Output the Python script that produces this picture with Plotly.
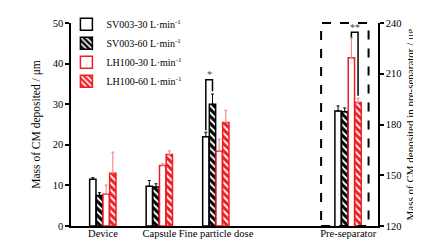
import plotly.graph_objects as go

categories = ["Device", "Capsule", "Fine particle dose"]
pre_category = "Pre-separator"
series = ["SV003-30 L·min<sup>-1</sup>", "SV003-60 L·min<sup>-1</sup>",
          "LH100-30 L·min<sup>-1</sup>", "LH100-60 L·min<sup>-1</sup>"]

# left-axis values (Device, Capsule, Fine particle dose)
sv30 = [11.5, 9.8, 22.0]
sv60 = [7.5, 9.6, 30.0]
lh30 = [7.8, 14.9, 18.4]
lh60 = [13.0, 17.6, 25.5]
sv30_err = [0.4, 1.4, 1.1]
sv60_err = [0.7, 0.8, 2.5]
lh30_err = [2.3, 0.4, 3.0]
lh60_err = [5.2, 0.9, 3.0]

# right-axis values (Pre-separator)
pre_vals = [188.0, 187.5, 219.5, 193.0]
pre_errs = [3.0, 2.3, 11.5, 2.5]

left_ticks = [0, 10, 20, 30, 40, 50]
right_ticks = [120, 150, 180, 210, 240]

# layout positions
x_pos = [0, 1, 2]
pre_x = 4.34
bar_w = 0.112
offsets = [-0.236, -0.118, 0.0, 0.118]

BLACK = "#000000"
RED = "#f01e23"
RED_ERR = "#f07a7a"
FONT = "Times New Roman, Liberation Serif, serif"

styles = [
    dict(color="white", line=BLACK, pattern=None, err=BLACK),
    dict(color=BLACK, line=BLACK, pattern=dict(shape="\\", fgcolor="white", bgcolor=BLACK, size=5, solidity=0.4), err=BLACK),
    dict(color="white", line=RED, pattern=None, err=RED_ERR),
    dict(color=RED, line=RED, pattern=dict(shape="\\", fgcolor="white", bgcolor=RED, size=5, solidity=0.4), err=RED_ERR),
]

left_vals = [sv30, sv60, lh30, lh60]
left_errs = [sv30_err, sv60_err, lh30_err, lh60_err]

fig = go.Figure()
for i, (name, vals, errs, st) in enumerate(zip(series, left_vals, left_errs, styles)):
    marker = dict(color=st["color"], line=dict(color=st["line"], width=1.5))
    if st["pattern"]:
        marker["pattern"] = dict(st["pattern"], fillmode="replace")
    fig.add_trace(go.Bar(
        x=x_pos, y=vals, name=name, width=bar_w, offset=offsets[i],
        marker=marker, legendgroup=name, showlegend=True,
        error_y=dict(type="data", array=errs, arrayminus=[0] * len(errs), symmetric=False,
                     color=st["err"], thickness=1, width=1.5),
        yaxis="y",
    ))
    fig.add_trace(go.Bar(
        x=[pre_x], y=[pre_vals[i]], name=name, width=bar_w, offset=offsets[i],
        marker=marker, legendgroup=name, showlegend=False,
        error_y=dict(type="data", array=[pre_errs[i]], arrayminus=[0], symmetric=False,
                     color=st["err"], thickness=1, width=1.5),
        yaxis="y2",
    ))

# dashed box around pre-separator
fig.add_shape(type="rect", xref="x", yref="paper", x0=3.86, x1=4.70, y0=0, y1=1,
              line=dict(color=BLACK, width=2, dash="dash"), fillcolor="rgba(0,0,0,0)")

# significance bracket: FPD SV30 vs SV60
xa = x_pos[2] + offsets[0] + bar_w / 2
xb = x_pos[2] + offsets[1] + bar_w / 2
fig.add_shape(type="path", xref="x", yref="y",
              path=f"M {xa} 23.6 L {xa} 36 L {xb} 36 L {xb} 33.2",
              line=dict(color=BLACK, width=1.5))
fig.add_annotation(x=(xa + xb) / 2, y=36, xref="x", yref="y", text="*", showarrow=False,
                   yanchor="bottom", yshift=-2, font=dict(family=FONT, size=10, color="#444"))

# significance bracket: Pre-separator LH30 vs LH60
xc = pre_x + offsets[2] + bar_w / 2
xd = pre_x + offsets[3] + bar_w / 2
fig.add_shape(type="path", xref="x", yref="y2",
              path=f"M {xc} 231.5 L {xc} 234.5 L {xd} 234.5 L {xd} 197",
              line=dict(color=BLACK, width=1.5))
fig.add_annotation(x=(xc + xd) / 2, y=234.5, xref="x", yref="y2", text="**", showarrow=False,
                   yanchor="bottom", yshift=-3, font=dict(family=FONT, size=10, color="#444"))

fig.update_layout(
    width=421, height=241,
    margin=dict(l=63, r=51, t=15, b=23, autoexpand=False),
    paper_bgcolor="white", plot_bgcolor="white",
    font=dict(family=FONT, size=11, color=BLACK),
    barmode="overlay",
    showlegend=True,
    legend=dict(x=-0.015, y=1.065, xanchor="left", yanchor="top", bgcolor="rgba(0,0,0,0)",
                font=dict(family=FONT, size=10), tracegroupgap=0, itemwidth=30),
    xaxis=dict(range=[-0.566, 4.867], tickvals=x_pos + [pre_x], tickangle=0,
               ticktext=categories + [pre_category], showgrid=False, zeroline=False,
               showline=True, linecolor=BLACK, linewidth=1.5, ticks="", automargin=False,
               ticklabelstandoff=-3,
               tickfont=dict(family=FONT, size=10.5)),
    yaxis=dict(range=[0, 50], tickvals=left_ticks, showgrid=False, zeroline=False,
               showline=True, linecolor=BLACK, linewidth=1.5, ticks="outside", ticklen=4,
               tickwidth=1.5, tickcolor=BLACK, tickfont=dict(family=FONT, size=10.5),
               automargin=False,
               title=dict(text="Mass of CM deposited / μm", font=dict(family=FONT, size=11.5), standoff=10)),
    yaxis2=dict(range=[120, 240], tickvals=right_ticks, overlaying="y", side="right",
                showgrid=False, zeroline=False, showline=True, linecolor=BLACK, linewidth=1.5,
                ticks="outside", ticklen=4, tickwidth=1.5, tickcolor=BLACK,
                tickfont=dict(family=FONT, size=10.5), automargin=False,
                title=dict(text="Mass of CM deposited in pre-separator / μg",
                           font=dict(family=FONT, size=11), standoff=6)),
)

fig.write_html("out.html")
